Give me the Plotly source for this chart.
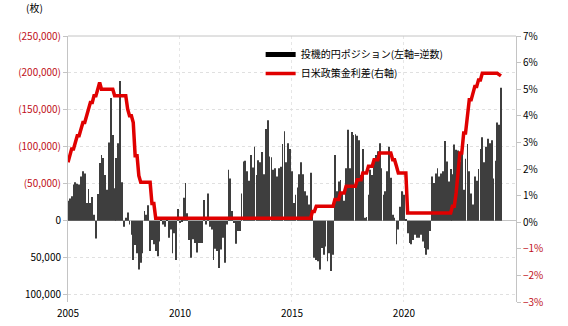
import pandas as pd
import plotly.graph_objects as go

start_month = "2005-01-01"

# Speculative yen position (thousands of contracts, shown inverted: up = yen net short)
yen_pos_k = [
    27, 30, 33, 49, 52, 50, 49, 60, 67, 64, 24, 43,
    24, 32, 8, -24, 36, 78, 89, 85, 62, 42, 106, 166,
    116, 44, 85, 105, 189, 52, -8, 4, 11, -5, -19, -53,
    -33,
    -44, -66, -57, -44, 13, 8, 21, -41, -26, -32, -41,
    -48, -28, 1, -5, -8, 2, -23, -12, -44, -17, -53, 16,
    -3, -1, 31, 51, 10, -26, -50, -25, -30, -43, -30, -30,
    -30, 28, -5, 37, -8, -12,
    -53, -38, -41, -64, -39, -23, -57, -5, 69, 57, 13, -3,
    -31, -14, -14, 37, 80, 81, 67, 54, 89, 72, 100, 62,
    82, 79, 93, 63, 124, 136, 87, 86, 69, 71, 60, 71,
    73, 104, 121, 79, 105,
    97, 67, 24, 35, 45, 63, 79, 63, 40, 34, 22, 65, 8,
    -50, -53, -55, -66, -37, -46, -35, -55, -44, -68, -46,
    89, 40, 53, 55, 36, 27, 71, 123, 71, 120, 116, 117, 115, 109, 62,
    97, 4, 5, 35, 69, 62, 82, 89, 94, 105, 71, 35, 40, 67, 100, 58, 8, 4,
    -32, -12, 19, 40, 35, 1,
    -17, -30, -32, -26, -19, -23, -23, -19, -28, -37, -46, -39, -14,
    60, 51, 64,
    71, 60, 64, 67, 108, 80, 53, 70, 63, 103, 96, 95, 80, 93, 42, 84,
    104, 67, 37, 22, 60, 54, 70, 97, 113, 79, 100, 111, 105, 109, 57,
    81, 133, 130, 180,
]

# US-Japan policy rate differential (%)
rate_diff = [
    2.25, 2.5, 2.75, 2.75, 3.0, 3.25, 3.25, 3.5, 3.75, 3.75, 4.0, 4.25,
    4.5, 4.5, 4.75, 4.75, 5.0, 5.25, 5.0, 5.0, 5.0, 5.0, 5.0, 5.0,
    5.0, 4.75, 4.75, 4.75, 4.75, 4.75, 4.75, 4.75, 4.25, 4.0, 4.0, 3.75,
    2.5, 2.5, 1.75, 1.5, 1.5, 1.5, 1.5, 1.5, 1.5, 0.7, 0.7, 0.15,
] + [0.15] * 12 * 7
rate_diff[-1] = 0.4
rate_diff += [
    0.4, 0.6, 0.6, 0.6, 0.6, 0.6, 0.6, 0.6, 0.6, 0.6, 0.6, 0.85,
    0.85, 0.85, 1.1, 1.1, 1.1, 1.35, 1.35, 1.35, 1.35, 1.35, 1.35, 1.6,
    1.6, 1.6, 1.85, 1.85, 1.85, 2.1, 2.1, 2.1, 2.35, 2.35, 2.35, 2.6,
    2.6, 2.6, 2.6, 2.6, 2.6, 2.6, 2.35, 2.35, 2.1, 1.85, 1.85, 1.85,
    1.85, 1.85, 0.35, 0.35, 0.35, 0.35, 0.35, 0.35, 0.35, 0.35, 0.35, 0.35,
    0.35, 0.35, 0.35, 0.35, 0.35, 0.35, 0.35, 0.35, 0.35, 0.35, 0.35, 0.35,
    0.35, 0.35, 0.6, 0.6, 1.1, 1.85, 2.6, 2.6, 3.35, 3.35, 4.1, 4.6,
    4.6, 4.85, 5.1, 5.1, 5.35, 5.35, 5.6, 5.6, 5.6, 5.6, 5.6, 5.6,
    5.6, 5.6, 5.6, 5.55, 5.5,
]

left_tick_vals = [250000, 200000, 150000, 100000, 50000, 0, -50000, -100000]
left_red_text = ["(250,000)", "(200,000)", "(150,000)", "(100,000)", "(50,000)", "", "", ""]
left_blk_text = ["", "", "", "", "", "0", "50,000", "100,000"]
right_tick_vals = [7, 6, 5, 4, 3, 2, 1, 0, -1, -2, -3]
right_blk_text = ["7%", "6%", "5%", "4%", "3%", "2%", "1%", "0%", "", "", ""]
right_red_text = ["", "", "", "", "", "", "", "", "\u22121%", "\u22122%", "\u22123%"]
year_ticks = ["2005", "2010", "2015", "2020"]

series_bar_name = "投機的円ポジション(左軸=逆数)"
series_line_name = "日米政策金利差(右軸)"

RED_TXT = "#c0101a"
LINE_RED = "#e00000"
AX_GRAY = "#c4c4c4"
FONT = "Noto Sans CJK JP, DejaVu Sans, sans-serif"
LEFT_RANGE = [-110000, 250000]
RIGHT_RANGE = [-3, 7]

months = pd.date_range(start_month, periods=len(yen_pos_k), freq="MS")
line_months = months[: len(rate_diff)]

fig = go.Figure()
fig.add_trace(go.Bar(
    x=months, y=[v * 1000 for v in yen_pos_k],
    marker=dict(color="#3e3e3e", line=dict(width=0)),
    showlegend=False, name=series_bar_name,
))
fig.add_trace(go.Scatter(
    x=line_months, y=rate_diff, yaxis="y2", mode="lines",
    line=dict(color=LINE_RED, width=3.5), showlegend=False, name=series_line_name,
))
fig.add_trace(go.Scatter(x=[None], y=[None], mode="lines",
                         line=dict(color="black", width=5), name=series_bar_name))
fig.add_trace(go.Scatter(x=[None], y=[None], mode="lines",
                         line=dict(color=LINE_RED, width=3.5), name=series_line_name))
fig.add_trace(go.Scatter(x=[None], y=[None], yaxis="y3", showlegend=False, hoverinfo="skip"))
fig.add_trace(go.Scatter(x=[None], y=[None], yaxis="y4", showlegend=False, hoverinfo="skip"))

fig.update_layout(
    width=568, height=326,
    margin=dict(l=68, r=52, t=36, b=24, autoexpand=False),
    paper_bgcolor="white", plot_bgcolor="white",
    font=dict(family=FONT, size=10, color="black"),
    bargap=0.52,
    showlegend=True,
    legend=dict(x=0.43, y=0.985, xanchor="left", yanchor="top",
                bgcolor="rgba(255,255,255,0)", font=dict(size=10, family=FONT),
                tracegroupgap=0, itemwidth=30),
    xaxis=dict(
        type="date", range=["2005-01-01", "2025-01-01"],
        tickvals=[f"{y}-01-01" for y in year_ticks], ticktext=year_ticks,
        showgrid=True, gridcolor="#e6e6e6", griddash="dot",
        showline=False, ticks="", tickfont=dict(size=10),
        ticklabelstandoff=4, automargin=False,
    ),
    yaxis=dict(
        range=LEFT_RANGE,
        tickvals=left_tick_vals, ticktext=left_red_text,
        tickfont=dict(size=10, color=RED_TXT),
        showgrid=True, gridcolor="#e0e0e0", griddash="dot",
        zeroline=True, zerolinecolor=AX_GRAY, zerolinewidth=1,
        showline=True, linecolor=AX_GRAY, linewidth=1,
        ticks="outside", ticklen=4, tickcolor=AX_GRAY, automargin=False,
    ),
    yaxis3=dict(
        overlaying="y", side="left", range=LEFT_RANGE,
        tickvals=left_tick_vals, ticktext=left_blk_text,
        tickfont=dict(size=10, color="black"),
        showgrid=False, zeroline=False, showline=False,
        ticks="outside", ticklen=4, tickcolor="rgba(0,0,0,0)", automargin=False,
    ),
    yaxis2=dict(
        overlaying="y", side="right", range=RIGHT_RANGE,
        tickvals=right_tick_vals, ticktext=right_blk_text,
        tickfont=dict(size=10, color="black"),
        showgrid=False, zeroline=False,
        showline=True, linecolor=AX_GRAY, linewidth=1,
        ticks="outside", ticklen=4, tickcolor=AX_GRAY, automargin=False,
    ),
    yaxis4=dict(
        overlaying="y", side="right", range=RIGHT_RANGE,
        tickvals=right_tick_vals, ticktext=right_red_text,
        tickfont=dict(size=10, color=RED_TXT),
        showgrid=False, zeroline=False, showline=False,
        ticks="outside", ticklen=4, tickcolor="rgba(0,0,0,0)", automargin=False,
    ),
    shapes=[dict(type="line", xref="paper", yref="paper", x0=0, x1=1, y0=1, y1=1,
                 line=dict(color=AX_GRAY, width=1))],
    annotations=[dict(text="(枚)", xref="paper", yref="paper", x=-0.075, y=1.07,
                      xanchor="center", yanchor="bottom", showarrow=False,
                      font=dict(size=10, family=FONT))],
)

fig.write_html("out.html")
